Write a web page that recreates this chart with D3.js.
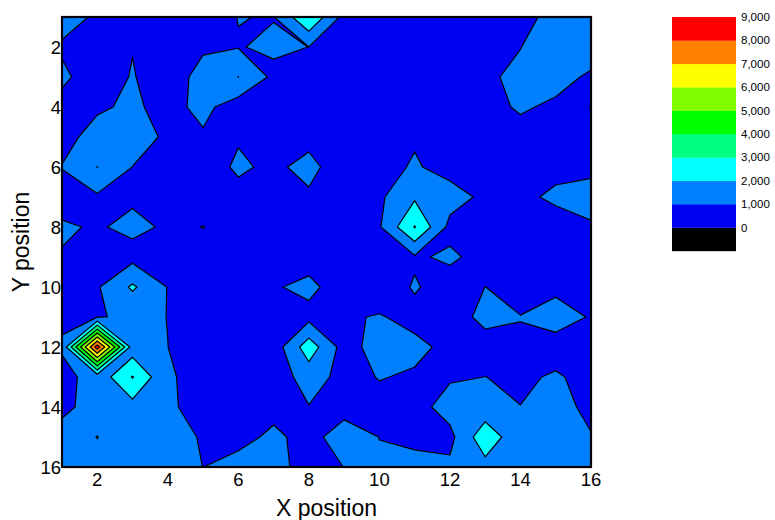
<!DOCTYPE html>
<html><head><meta charset="utf-8">
<script src="https://cdn.jsdelivr.net/npm/d3@7"></script>
<style>body{margin:0;background:#fff;} svg{display:block;font-family:"Liberation Sans",Arial,sans-serif;}</style>
</head><body>
<svg id="chart" width="775" height="520"></svg>
<script>
// grid positions
const xPositions = [1,2,3,4,5,6,7,8,9,10,11,12,13,14,15,16];
const yPositions = [1,2,3,4,5,6,7,8,9,10,11,12,13,14,15,16];
// z values, one array per Y position (X = 1..16)
const rowY01 = [1300, 895, 700, 700, 600, 1020, 967, 2900, 700, 750, 750, 700, 700, 800, 1200, 1300];
const rowY02 = [900, 800, 974, 750, 889, 957, 1150, 995, 700, 750, 750, 700, 750, 990, 1300, 1635];
const rowY03 = [1150, 594, 1050, 550, 1300, 2010, 780, 800, 750, 700, 700, 750, 917, 1115, 1420, 811];
const rowY04 = [745, 877, 1150, 700, 1250, 500, 750, 750, 700, 700, 750, 700, 600, 1150, 784, 1010];
const rowY05 = [700, 1333, 1300, 889, 883, 944, 800, 800, 750, 750, 904, 700, 700, 550, 700, 800];
const rowY06 = [1030, 2010, 991, 700, 683, 1100, 870, 1200, 600, 665, 1100, 650, 700, 700, 775, 816];
const rowY07 = [650, 862, 877, 750, 750, 806, 800, 900, 750, 837, 1857, 1400, 794, 818, 1150, 1300];
const rowY08 = [1105, 917, 1200, 888, 1010, 800, 750, 800, 700, 907, 3050, 730, 700, 700, 633, 910];
const rowY09 = [946, 800, 700, 800, 750, 750, 750, 574, 700, 800, 880, 1150, 695, 700, 700, 750];
const rowY10 = [800, 900, 2150, 964, 700, 700, 908, 1250, 469, 500, 1080, 600, 1005, 700, 871, 750];
const rowY11 = [850, 960, 1100, 995, 700, 650, 750, 700, 900, 1060, 750, 650, 1200, 1020, 1250, 956];
const rowY12 = [1100, 8500, 1450, 1002, 800, 600, 450, 2550, 600, 1400, 1200, 800, 700, 895, 760, 700];
const rowY13 = [730, 1350, 3050, 1100, 700, 600, 450, 1428, 700, 1040, 900, 894, 1005, 905, 1063, 821];
const rowY14 = [700, 1511, 1631, 1150, 650, 650, 755, 968, 698, 732, 631, 1400, 1372, 1007, 1300, 792];
const rowY15 = [1489, 2020, 1300, 1300, 934, 744, 1164, 721, 1401, 990, 849, 731, 2654, 1263, 1400, 1046];
const rowY16 = [1500, 1700, 1300, 1300, 995, 1300, 1300, 648, 1010, 1090, 1200, 1179, 1663, 1400, 1400, 1300];

// contour levels / legend
const levels = [0, 1000, 2000, 3000, 4000, 5000, 6000, 7000, 8000, 9000];
const levelLabels = ["0", "1,000", "2,000", "3,000", "4,000", "5,000", "6,000", "7,000", "8,000", "9,000"];
const levelColors = ["#000000", "#0000f2", "#0080ff", "#00ffff", "#00ff80", "#00ff00", "#80ff00", "#ffff00", "#ff8000", "#ff0000"];
const contourThresholds = [1000, 2000, 3000, 4000, 5000, 6000, 7000, 8000];

const xTicks = [2, 4, 6, 8, 10, 12, 14, 16];
const yTicks = [2, 4, 6, 8, 10, 12, 14, 16];

const rows = [rowY01,rowY02,rowY03,rowY04,rowY05,rowY06,rowY07,rowY08,rowY09,rowY10,rowY11,rowY12,rowY13,rowY14,rowY15,rowY16];
const nx = xPositions.length, ny = yPositions.length;
const values = rows.flat();

const svg = d3.select("#chart");
const plot = {x0: 62, x1: 591, y0: 17, y1: 467};
const x = d3.scaleLinear().domain([1, 16]).range([plot.x0, plot.x1]);
const y = d3.scaleLinear().domain([1, 16]).range([plot.y0, plot.y1]);

svg.append("defs").append("clipPath").attr("id", "clip")
  .append("rect").attr("x", plot.x0).attr("y", plot.y0)
  .attr("width", plot.x1 - plot.x0).attr("height", plot.y1 - plot.y0);

const contours = d3.contours().size([nx, ny]).thresholds(contourThresholds)(values);
const proj = d3.geoTransform({
  point(cx, cy) { this.stream.point(x(xPositions[0] + cx - 0.5), y(yPositions[0] + cy - 0.5)); }
});
const path = d3.geoPath(proj);

const g = svg.append("g").attr("clip-path", "url(#clip)");
g.append("rect").attr("x", plot.x0).attr("y", plot.y0)
  .attr("width", plot.x1 - plot.x0).attr("height", plot.y1 - plot.y0)
  .attr("fill", levelColors[1]);
g.selectAll("path.band").data(contours).join("path")
  .attr("class", "band")
  .attr("d", path)
  .attr("fill", d => levelColors[levels.indexOf(d.value) + 1])
  .attr("stroke", "none");
g.selectAll("path.line").data(contours).join("path")
  .attr("class", "line")
  .attr("d", path)
  .attr("fill", "none")
  .attr("stroke", "#000")
  .attr("stroke-width", 1.2)
  .attr("stroke-linejoin", "round");

// frame
svg.append("rect").attr("x", plot.x0).attr("y", plot.y0)
  .attr("width", plot.x1 - plot.x0).attr("height", plot.y1 - plot.y0)
  .attr("fill", "none").attr("stroke", "#000").attr("stroke-width", 2.2);

// tick labels
svg.append("g").selectAll("text").data(xTicks).join("text")
  .attr("x", d => x(d)).attr("y", 486)
  .attr("text-anchor", "middle").attr("font-size", 18.5).attr("fill", "#000")
  .text(d => d);
svg.append("g").selectAll("text").data(yTicks).join("text")
  .attr("x", 61).attr("y", d => y(d)).attr("dy", "0.36em")
  .attr("text-anchor", "end").attr("font-size", 18.5).attr("fill", "#000")
  .text(d => d);

// axis titles
svg.append("text").attr("x", (plot.x0 + plot.x1) / 2).attr("y", 516)
  .attr("text-anchor", "middle").attr("font-size", 23).text("X position");
svg.append("text").attr("transform", `translate(29,${(plot.y0 + plot.y1) / 2}) rotate(-90)`)
  .attr("text-anchor", "middle").attr("font-size", 23).text("Y position");

// legend
const ly = d3.scaleLinear().domain([9000, 0]).range([17, 227.5]);
const step = ly(0) - ly(1000);
const leg = svg.append("g");
leg.selectAll("rect").data(levels).join("rect")
  .attr("x", 672).attr("y", d => ly(d)).attr("width", 64).attr("height", step + 0.3)
  .attr("fill", (d, i) => levelColors[i]);
leg.selectAll("text").data(levels).join("text")
  .attr("x", 741).attr("y", d => ly(d)).attr("dy", "0.35em")
  .attr("font-size", 11.5).attr("fill", "#000")
  .text((d, i) => levelLabels[i]);
</script>
</body></html>
